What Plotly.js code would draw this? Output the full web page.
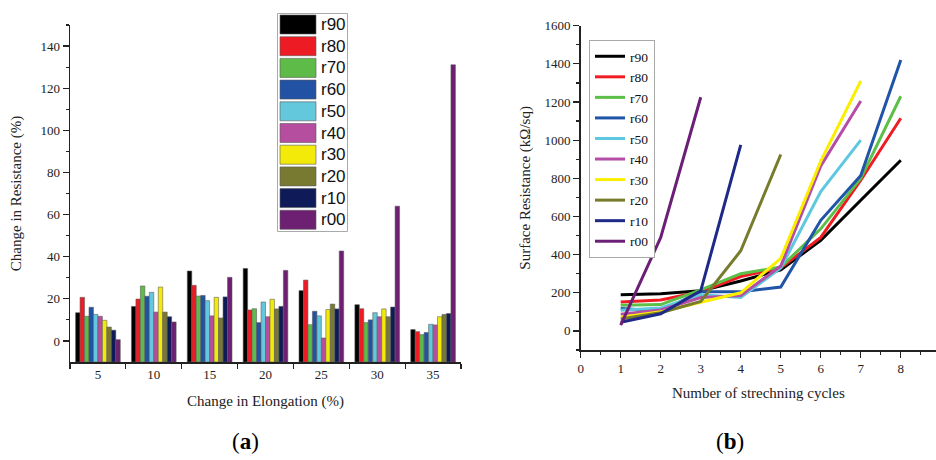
<!DOCTYPE html>
<html>
<head>
<meta charset="utf-8">
<script src="https://cdn.plot.ly/plotly-3.0.1.min.js"></script>
<style>html,body{margin:0;padding:0;background:#fff;}#chart{width:936px;height:460px;}</style>
</head>
<body>
<div id="chart"></div>
<script>
// ---------- Data: panel (a) ----------
const elongation = [5, 10, 15, 20, 25, 30, 35];
const seriesNames = ['r90', 'r80', 'r70', 'r60', 'r50', 'r40', 'r30', 'r20', 'r10', 'r00'];
const resR90 = [13.4, 16.4, 33.2, 34.4, 23.9, 17.2, 5.4];
const resR80 = [20.7, 19.9, 26.4, 14.7, 28.9, 15.3, 4.4];
const resR70 = [11.7, 26.1, 21.3, 15.3, 7.7, 8.7, 3.0];
const resR60 = [16.0, 21.2, 21.6, 8.7, 14.1, 10.0, 4.0];
const resR50 = [12.6, 23.1, 19.1, 18.5, 11.9, 13.4, 7.9];
const resR40 = [11.7, 13.7, 11.9, 11.5, 1.4, 11.5, 7.6];
const resR30 = [9.8, 25.6, 20.7, 19.8, 14.9, 15.2, 11.5];
const resR20 = [6.6, 13.7, 10.9, 15.2, 17.5, 11.5, 12.6];
const resR10 = [5.1, 11.5, 20.9, 16.4, 15.2, 16.1, 13.0];
const resR00 = [0.6, 9.0, 30.2, 33.5, 42.7, 64.0, 131.1];
const barSeries = [resR90, resR80, resR70, resR60, resR50, resR40, resR30, resR20, resR10, resR00];

// ---------- Data: panel (b) ----------
const cycles = [1, 2, 3, 4, 5, 6, 7, 8];
const srR90 = [190, 195, 210, 262, 320, 475, 685, 895];
const srR80 = [152, 162, 205, 285, 330, 490, 790, 1115];
const srR70 = [135, 138, 215, 300, 335, 535, 800, 1230];
const srR60 = [118, 105, 205, 205, 230, 580, 815, 1420];
const srR50 = [108, 120, 190, 175, 330, 730, 1000];
const srR40 = [88, 110, 175, 185, 340, 865, 1205];
const srR30 = [72, 100, 150, 200, 380, 890, 1310];
const srR20 = [62, 95, 155, 420, 925];
const srR10 = [45, 90, 210, 975];
const srR00 = [30, 490, 1225];
const lineSeries = [srR90, srR80, srR70, srR60, srR50, srR40, srR30, srR20, srR10, srR00];

const barColors = ['#000000', '#ed1c24', '#5fbb47', '#2152a3', '#63c8dc', '#b64e9f', '#f4ea0a', '#787a31', '#0f1a58', '#6d1f71'];
const lineColors = ['#000000', '#f01c24', '#5cbf47', '#2054a8', '#5ec8e0', '#b54da6', '#fbef00', '#777b2c', '#1f2a88', '#6c1f76'];

const axisFloor = -10;
const serif = 'Liberation Serif, Times New Roman, serif';
const sans = 'Liberation Sans, Arial, sans-serif';

const traces = [];
seriesNames.forEach((nm, i) => {
  traces.push({
    type: 'bar', name: nm, x: elongation,
    y: barSeries[i].map(v => v - axisFloor), base: axisFloor,
    marker: {color: barColors[i], line: {color: 'rgba(90,90,90,0.7)', width: 0.8}},
    xaxis: 'x', yaxis: 'y', showlegend: false
  });
});
seriesNames.forEach((nm, i) => {
  traces.push({
    type: 'scatter', mode: 'lines', name: nm, x: cycles.slice(0, lineSeries[i].length), y: lineSeries[i],
    line: {color: lineColors[i], width: 3},
    xaxis: 'x2', yaxis: 'y2', legend: 'legend2'
  });
});

// Custom legend for panel (a) (large swatches)
const W = 936, H = 460;
const px = v => v / W, py = v => 1 - v / H;
const shapes = [{type: 'rect', xref: 'paper', yref: 'paper', x0: px(277.5), x1: px(347.5), y0: py(13.5), y1: py(231.5),
  line: {color: '#aaaaaa', width: 1}, fillcolor: 'rgba(0,0,0,0)'}];
const annotations = [];
seriesNames.forEach((nm, i) => {
  const top = 15 + i * 21.7;
  shapes.push({type: 'rect', xref: 'paper', yref: 'paper', x0: px(280), x1: px(316), y0: py(top), y1: py(top + 19),
    line: {color: 'rgba(90,90,90,0.6)', width: 1}, fillcolor: barColors[i]});
  annotations.push({xref: 'paper', yref: 'paper', x: px(319), y: py(top + 9.5), xanchor: 'left', yanchor: 'middle',
    text: nm, showarrow: false, font: {family: sans, size: 17, color: '#111'}});
});
annotations.push({xref: 'paper', yref: 'paper', x: px(245), y: py(441), xanchor: 'center', yanchor: 'middle',
  text: '(<b>a</b>)', showarrow: false, font: {family: serif, size: 23, color: '#000'}});
annotations.push({xref: 'paper', yref: 'paper', x: px(730), y: py(441), xanchor: 'center', yanchor: 'middle',
  text: '(<b>b</b>)', showarrow: false, font: {family: serif, size: 23, color: '#000'}});

const tickFont = {family: serif, size: 13, color: '#222'};
const titleFont = {family: serif, size: 15, color: '#222'};

const layout = {
  width: W, height: H,
  margin: {l: 0, r: 0, t: 0, b: 0},
  paper_bgcolor: '#fff', plot_bgcolor: 'rgba(0,0,0,0)',
  barmode: 'group', bargap: 0.2, bargroupgap: 0,
  showlegend: true,
  xaxis: {
    domain: [px(70), px(461)], range: [2.5, 37.5],
    tickvals: elongation, ticktext: elongation.map(String), ticks: '', showgrid: false, zeroline: false,
    showline: true, linecolor: '#222', linewidth: 1.5, tickfont: tickFont,
    minor: {tick0: 2.5, dtick: 5, ticks: 'outside', ticklen: 5, tickcolor: '#222', tickwidth: 1.2, showgrid: false},
    title: {text: 'Change in Elongation (%)', font: titleFont, standoff: 14}, anchor: 'y'
  },
  yaxis: {
    domain: [1 - 362 / H, 1 - 25 / H], range: [-10, 150],
    tickvals: [0, 20, 40, 60, 80, 100, 120, 140], ticks: 'outside', ticklen: 6, tickwidth: 1.2, tickcolor: '#222',
    minor: {tickvals: [10, 30, 50, 70, 90, 110, 130, 150], ticks: 'outside', ticklen: 3, tickcolor: '#222', tickwidth: 1.2, showgrid: false},
    showgrid: false, zeroline: false, showline: true, linecolor: '#222', linewidth: 1.5, tickfont: tickFont,
    title: {text: 'Change in Resistance (%)', font: titleFont, standoff: 15}, anchor: 'x'
  },
  xaxis2: {
    domain: [px(580.7), 1], range: [0, 8.88],
    dtick: 1, tick0: 0, ticks: 'outside', ticklen: 6, tickwidth: 1.2, tickcolor: '#222',
    minor: {dtick: 0.5, tick0: 0, ticks: 'outside', ticklen: 3, tickcolor: '#222', tickwidth: 1.2, showgrid: false},
    showgrid: false, zeroline: false, showline: true, linecolor: '#222', linewidth: 1.5, tickfont: tickFont,
    title: {text: 'Number of strechning cycles', font: titleFont, standoff: 12}, anchor: 'y2'
  },
  yaxis2: {
    domain: [1 - 350 / H, 1 - 25.7 / H], range: [-100, 1600],
    tickvals: [0, 200, 400, 600, 800, 1000, 1200, 1400, 1600], ticks: 'outside', ticklen: 6, tickwidth: 1.2, tickcolor: '#222',
    minor: {dtick: 100, tick0: 0, ticks: 'outside', ticklen: 3, tickcolor: '#222', tickwidth: 1.2, showgrid: false},
    showgrid: false, zeroline: false, showline: true, linecolor: '#222', linewidth: 1.5, tickfont: tickFont,
    title: {text: 'Surface Resistance (kΩ/sq)', font: titleFont, standoff: 10}, anchor: 'x2'
  },
  legend2: {
    x: px(589), y: py(40), xanchor: 'left', yanchor: 'top',
    bgcolor: '#fff', bordercolor: '#aaaaaa', borderwidth: 1,
    font: {family: serif, size: 13.5, color: '#111'}, tracegroupgap: 0, itemwidth: 30
  },
  shapes: shapes,
  annotations: annotations
};

Plotly.newPlot('chart', traces, layout, {displayModeBar: false, staticPlot: true});
</script>
</body>
</html>
